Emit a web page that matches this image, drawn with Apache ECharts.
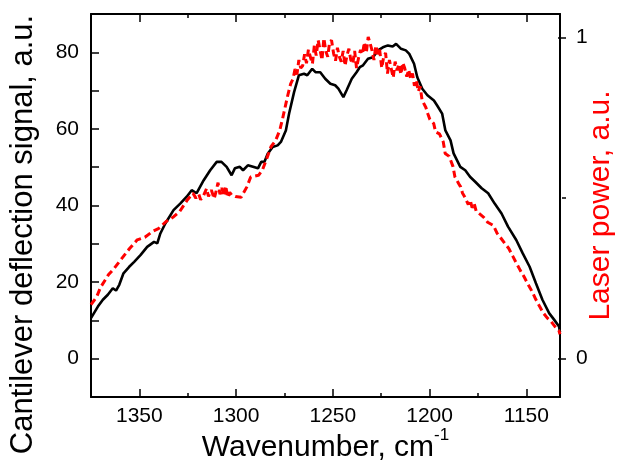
<!DOCTYPE html>
<html><head><meta charset="utf-8">
<script src="https://cdn.jsdelivr.net/npm/echarts@6/dist/echarts.min.js"></script>
<style>html,body{margin:0;padding:0;background:#fff}#c{width:624px;height:472px}</style>
</head><body><div id="c"></div>
<script>
// tick ranges
const xTickMin = 1150, xTickMax = 1350, xTickStep = 50;
const yLeftMin = -10, yLeftMax = 90, yLeftStep = 10, yLeftLabelStep = 20;
const yRightTickMin = 0, yRightTickMax = 1, yRightStep = 1;

const blackX = [1375,1371.4,1368.8,1366.2,1363.6,1361.9,1360.2,1358.0,1355.0,1352.4,1349.0,1345.6,1342.0,1340.3,1338.7,1336.1,1331.8,1328.3,1324.9,1322.3,1319.7,1316.0,1312.6,1309.2,1306.7,1304.0,1301.4,1299.7,1297.1,1295.4,1292.9,1290.2,1287.6,1285.9,1284.2,1282.5,1279.9,1277.3,1275.6,1273.0,1271.3,1268.7,1266.2,1263.5,1261.8,1259.2,1257.5,1255.0,1252.4,1249.7,1247.2,1245.5,1242.9,1241.2,1238.5,1236.0,1234.3,1232.6,1230.0,1227.4,1224.8,1222.2,1219.6,1217.1,1215.3,1212.7,1210.2,1208.4,1205.9,1204.2,1201.6,1198.9,1195.5,1193.8,1191.2,1189.5,1186.8,1185.2,1181.7,1179.1,1176.6,1173.9,1170.5,1167.1,1163.7,1160.1,1156.7,1152.4,1149.0,1145.4,1142.1,1138.7,1135.2,1132.6,1130.0,1129.5];
const blackY = [10.6,13.6,15.4,16.7,18.4,17.8,19.3,22.3,24.0,25.3,27.1,29.2,30.5,30.1,32.7,35.3,38.8,40.5,42.3,44.0,43.2,46.6,49.2,51.4,51.4,50.1,47.9,49.7,50.1,49.2,50.5,50.1,49.7,51.4,51.4,53.5,55.3,55.7,56.6,59.6,64.0,69.6,74.0,74.4,74.0,75.7,74.8,74.8,73.1,71.8,71.4,70.5,68.3,70.1,73.1,74.8,76.1,76.6,78.3,78.7,80.5,81.3,81.8,81.5,82.2,80.9,80.5,79.6,77.0,73.5,70.5,68.8,67.4,66.1,64.0,59.6,57.0,53.6,50.1,49.2,47.5,46.2,44.5,43.2,40.5,37.9,34.5,31.0,27.5,24.0,19.7,15.4,11.9,10.2,8.4,6.9];

const redX = [1375,1372.0,1370.0,1365.9,1362.9,1359.4,1354.8,1350.8,1346.8,1342.8,1339.7,1335.7,1331.7,1328.6,1324.6,1321.6,1320.1,1318.6,1317.6,1316.0,1314.5,1313.5,1312.0,1310.5,1309.5,1308.5,1307.5,1306.5,1305.5,1304.5,1303.4,1302.4,1301.4,1299.4,1296.4,1293.4,1291.4,1287.3,1285.3,1283.3,1280.8,1278.3,1276.2,1274.7,1272.2,1270.5,1269.2,1268.2,1267.2,1266.2,1265.2,1264.2,1263.2,1262.2,1261.2,1260.1,1259.1,1258.1,1257.1,1256.1,1255.1,1254.1,1253.1,1252.1,1251.1,1250.1,1249.1,1248.0,1247.0,1246.0,1245.0,1244.0,1243.0,1242.0,1241.0,1240.0,1239.0,1238.0,1237.0,1236.0,1234.9,1233.9,1232.9,1231.9,1230.9,1229.9,1228.9,1227.9,1226.9,1225.9,1224.9,1223.9,1222.8,1221.8,1220.8,1219.8,1218.8,1217.8,1216.8,1215.8,1214.8,1213.8,1212.8,1211.8,1210.8,1209.7,1208.7,1207.7,1206.7,1205.7,1204.7,1203.7,1202.7,1201.7,1200.7,1199.7,1198.7,1197.6,1195.6,1194.6,1192.6,1190.6,1189.6,1187.5,1185.5,1184.5,1183.5,1182.5,1181.5,1180.5,1179.5,1178.5,1177.5,1176.5,1175.5,1174.4,1173.4,1172.4,1171.4,1170.4,1169.4,1168.4,1167.4,1166.4,1164.4,1162.4,1160.4,1158.4,1156.3,1154.3,1152.3,1150.3,1148.3,1146.3,1144.2,1142.2,1140.2,1138.2,1136.2,1134.2,1132.1,1130.1,1129.5];
const redY = [0.168,0.193,0.222,0.261,0.281,0.308,0.343,0.370,0.378,0.396,0.405,0.427,0.442,0.458,0.494,0.515,0.500,0.512,0.495,0.509,0.530,0.505,0.525,0.498,0.522,0.548,0.512,0.532,0.506,0.538,0.502,0.518,0.510,0.505,0.503,0.535,0.566,0.571,0.587,0.618,0.660,0.680,0.711,0.748,0.815,0.856,0.872,0.902,0.885,0.930,0.905,0.912,0.948,0.920,0.962,0.938,0.918,0.975,0.944,0.992,0.962,0.930,0.998,0.958,0.940,0.985,0.992,0.950,0.928,0.968,0.940,0.925,0.958,0.912,0.945,0.965,0.930,0.918,0.958,0.905,0.938,0.962,0.948,0.985,0.952,1.002,0.982,0.960,0.930,0.975,0.948,0.962,0.905,0.940,0.952,0.888,0.930,0.902,0.875,0.925,0.898,0.918,0.885,0.922,0.905,0.878,0.900,0.872,0.888,0.850,0.868,0.832,0.848,0.805,0.800,0.782,0.763,0.745,0.732,0.706,0.700,0.675,0.639,0.630,0.598,0.566,0.560,0.545,0.535,0.515,0.505,0.504,0.480,0.494,0.470,0.483,0.460,0.463,0.450,0.455,0.440,0.445,0.425,0.421,0.415,0.390,0.375,0.359,0.343,0.320,0.297,0.275,0.255,0.232,0.210,0.185,0.163,0.142,0.127,0.116,0.100,0.088,0.076,0.070];

const FONT = '"Liberation Sans", Arial, Helvetica, sans-serif';
const chart = echarts.init(document.getElementById('c'), null, {renderer: 'canvas'});

// plot frame geometry (pixels)
const PL = 91, PR = 566, PT = 14, PB = 397, W = 624, H = 472;
const X0 = 1375, X1 = 1129.5;           // left / right edge values
const YL0 = yLeftMin, YL1 = yLeftMax;
const R_MIN = -0.1193, R_MAX = 1.0733;  // right axis bottom / top
const pxX = v => PL + (X0 - v) / (X0 - X1) * (PR - PL);
const pxYR = v => PB - (v - R_MIN) / (R_MAX - R_MIN) * (PB - PT);

const lineOn = {show: true, onZero: false, lineStyle: {color: '#000', width: 2}};
const lineOff = {show: false, onZero: false};
const tickStyle = {color: '#000', width: 1.5};
const bx = blackX.map((x, i) => [x, blackY[i]]);
const rx = redX.map((x, i) => [x, redY[i]]);
const plain = v => String(v);

chart.setOption({
  animation: false,
  backgroundColor: '#fff',
  grid: [
    {left: PL, right: W - PR, top: PT, bottom: H - PB},
    {left: pxX(xTickMax), right: W - pxX(xTickMin), top: PT, bottom: H - PB},
    {left: PL, right: W - PR, top: pxYR(yRightTickMax), bottom: H - pxYR(yRightTickMin)}
  ],
  xAxis: [
    {gridIndex: 0, type: 'value', position: 'bottom', inverse: true, min: X1, max: X0,
     axisLine: lineOn, axisTick: {show: false}, axisLabel: {show: false}, splitLine: {show: false},
     name: '{a|Wavenumber, cm}{b|-1}', nameLocation: 'middle', nameGap: 30,
     nameTextStyle: {rich: {a: {fontSize: 30, fontFamily: FONT, color: '#000', lineHeight: 36, verticalAlign: 'bottom'}, b: {fontSize: 17, fontFamily: FONT, color: '#000', verticalAlign: 'top', lineHeight: 36}}}},
    {gridIndex: 0, type: 'value', position: 'top', inverse: true, min: X1, max: X0,
     axisLine: lineOn, axisTick: {show: false}, axisLabel: {show: false}, splitLine: {show: false}},
    {gridIndex: 1, type: 'value', position: 'bottom', inverse: true, min: xTickMin, max: xTickMax, interval: xTickStep,
     axisLine: lineOff, splitLine: {show: false},
     axisTick: {show: true, inside: true, length: 8, lineStyle: tickStyle},
     minorTick: {show: true, splitNumber: 2, length: 4, lineStyle: tickStyle},
     axisLabel: {show: true, formatter: plain, margin: 9, color: '#000', fontSize: 21, fontFamily: FONT}},
    {gridIndex: 1, type: 'value', position: 'top', inverse: true, min: xTickMin, max: xTickMax, interval: xTickStep,
     axisLine: lineOff, splitLine: {show: false},
     axisTick: {show: true, inside: true, length: 8, lineStyle: tickStyle},
     minorTick: {show: true, splitNumber: 2, length: 4, lineStyle: tickStyle},
     axisLabel: {show: false}},
    {gridIndex: 2, type: 'value', min: X1, max: X0, show: false}
  ],
  yAxis: [
    {gridIndex: 0, type: 'value', position: 'left', min: YL0, max: YL1, interval: yLeftStep,
     axisLine: lineOn, splitLine: {show: false},
     axisTick: {show: true, inside: true, length: 8, lineStyle: tickStyle},
     axisLabel: {show: true, formatter: v => (v >= 0 && v % yLeftLabelStep === 0 ? String(v) : ''), margin: 12, color: '#000', fontSize: 21, fontFamily: FONT},
     name: 'Cantilever deflection signal, a.u.', nameLocation: 'middle', nameGap: 52, nameRotate: 90,
     nameTextStyle: {fontSize: 31, fontFamily: FONT, color: '#000', padding: [0, 58, 0, 0]}},
    {gridIndex: 0, type: 'value', position: 'right', min: R_MIN, max: R_MAX,
     axisLine: lineOn, axisTick: {show: false}, axisLabel: {show: false}, splitLine: {show: false},
     name: 'Laser power, a.u.', nameLocation: 'middle', nameGap: 26, nameRotate: 90,
     nameTextStyle: {fontSize: 30, fontFamily: FONT, color: '#ff0000'}},
    {gridIndex: 1, type: 'value', min: YL0, max: YL1, show: false},
    {gridIndex: 2, type: 'value', position: 'right', min: yRightTickMin, max: yRightTickMax, interval: yRightStep,
     axisLine: lineOff, splitLine: {show: false},
     axisTick: {show: true, inside: true, length: 8, lineStyle: tickStyle},
     minorTick: {show: true, splitNumber: 2, length: 4, lineStyle: tickStyle},
     axisLabel: {show: true, formatter: plain, margin: 10, color: '#000', fontSize: 21, fontFamily: FONT}}
  ],
  series: [
    {type: 'line', xAxisIndex: 0, yAxisIndex: 0, data: bx, showSymbol: false, symbol: 'none',
     lineStyle: {color: '#000', width: 2.6}, z: 2},
    {type: 'line', xAxisIndex: 0, yAxisIndex: 1, data: rx, showSymbol: false, symbol: 'none',
     lineStyle: {color: '#ff0000', width: 3, type: [7, 4]}, z: 3}
  ]
});
</script>
</body></html>
